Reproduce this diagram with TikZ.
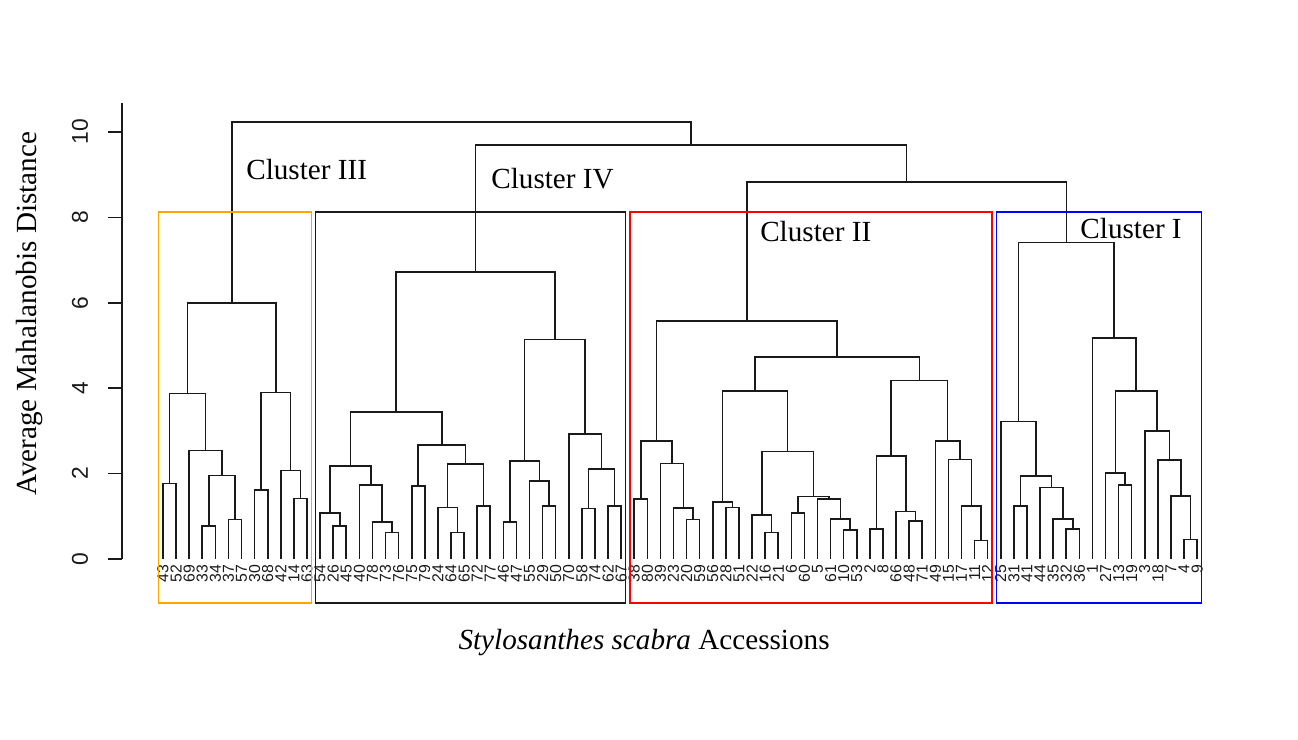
\documentclass[tikz,border=0pt]{standalone}
\usepackage{fontspec}
\setmainfont{Liberation Serif}
\setsansfont{Liberation Sans}
\usetikzlibrary{calc}
\definecolor{Ink}{HTML}{1A1A1A}
\definecolor{BoxOrange}{HTML}{FFA500}
\definecolor{BoxRed}{HTML}{FF0000}
\definecolor{BoxBlue}{HTML}{0000FF}

% one merge of the dendrogram: name, left child, right child, height
\newcommand{\dmerge}[4]{%
  \path ($(#2)!0.5!(#3)$) coordinate (#1tmp);
  \coordinate (#1) at (#1tmp |- 0,#4);
  \draw[branch] (#2) -- (#2 |- 0,#4) -- (#3 |- 0,#4) -- (#3);}

\begin{document}
\begin{tikzpicture}[x=0.2618cm,y=0.854cm,
  branch/.style={Ink,line width=0.9pt},
  leaflab/.style={font=\sffamily\fontsize{9}{9}\selectfont,text=Ink,rotate=90,anchor=east,inner sep=0pt},
  ticklab/.style={font=\sffamily\fontsize{13}{13}\selectfont,text=Ink,rotate=90},
  clulab/.style={font=\fontsize{16.6}{19}\selectfont,anchor=west,inner sep=0pt},
  cluframe/.style={line width=0.9pt}]
\useasboundingbox (-11.452,-4.2155) rectangle (87.708,13.091);
% leaves
\foreach \lab [count=\i] in {43,52,69,33,34,37,57,30,68,42,14,63,54,26,45,40,78,73,76,75,79,24,64,65,72,77,46,47,55,29,50,70,58,74,62,67,38,80,39,23,20,59,56,28,51,22,16,21,6,60,5,61,10,53,2,8,66,48,71,49,15,17,11,12,25,31,41,44,35,32,36,1,27,13,19,3,18,7,4,9} {\coordinate (l\lab) at (\i,0); \node[leaflab] (t\lab) at (\i,-0.12) {\lab};}
% cluster III
\dmerge{a1}{l43}{l52}{1.77}
\dmerge{a2}{l33}{l34}{0.77}
\dmerge{a3}{l37}{l57}{0.93}
\dmerge{a4}{a2}{a3}{1.96}
\dmerge{a5}{l69}{a4}{2.54}
\dmerge{a6}{a1}{a5}{3.88}
\dmerge{a7}{l30}{l68}{1.62}
\dmerge{a8}{l14}{l63}{1.42}
\dmerge{a9}{l42}{a8}{2.07}
\dmerge{a10}{a7}{a9}{3.90}
\dmerge{cIII}{a6}{a10}{5.99}
% cluster IV
\dmerge{b1}{l26}{l45}{0.77}
\dmerge{b2}{l54}{b1}{1.08}
\dmerge{b3}{l73}{l76}{0.62}
\dmerge{b4}{l78}{b3}{0.87}
\dmerge{b5}{l40}{b4}{1.73}
\dmerge{b6}{b2}{b5}{2.18}
\dmerge{b7}{l75}{l79}{1.71}
\dmerge{b8}{l64}{l65}{0.62}
\dmerge{b9}{l24}{b8}{1.21}
\dmerge{b10}{l72}{l77}{1.24}
\dmerge{b11}{b9}{b10}{2.23}
\dmerge{b12}{b7}{b11}{2.67}
\dmerge{b13}{b6}{b12}{3.44}
\dmerge{b14}{l46}{l47}{0.87}
\dmerge{b15}{l29}{l50}{1.24}
\dmerge{b16}{l55}{b15}{1.83}
\dmerge{b17}{b14}{b16}{2.30}
\dmerge{b18}{l58}{l74}{1.18}
\dmerge{b19}{l62}{l67}{1.24}
\dmerge{b20}{b18}{b19}{2.11}
\dmerge{b21}{l70}{b20}{2.93}
\dmerge{b22}{b17}{b21}{5.14}
\dmerge{cIV}{b13}{b22}{6.72}
% cluster II
\dmerge{d1}{l38}{l80}{1.40}
\dmerge{d2}{l20}{l59}{0.93}
\dmerge{d3}{l23}{d2}{1.19}
\dmerge{d4}{l39}{d3}{2.24}
\dmerge{d5}{d1}{d4}{2.76}
\dmerge{d6}{l28}{l51}{1.21}
\dmerge{d7}{l56}{d6}{1.33}
\dmerge{d8}{l16}{l21}{0.62}
\dmerge{d9}{l22}{d8}{1.03}
\dmerge{d10}{l6}{l60}{1.08}
\dmerge{d11}{l10}{l53}{0.68}
\dmerge{d12}{l61}{d11}{0.94}
\dmerge{d13}{l5}{d12}{1.40}
\dmerge{d14}{d10}{d13}{1.46}
\dmerge{d15}{d9}{d14}{2.52}
\dmerge{d16}{d7}{d15}{3.94}
\dmerge{d17}{l2}{l8}{0.70}
\dmerge{d18}{l48}{l71}{0.89}
\dmerge{d19}{l66}{d18}{1.11}
\dmerge{d20}{d17}{d19}{2.41}
\dmerge{d21}{l11}{l12}{0.43}
\dmerge{d22}{l17}{d21}{1.24}
\dmerge{d23}{l15}{d22}{2.33}
\dmerge{d24}{l49}{d23}{2.76}
\dmerge{d25}{d20}{d24}{4.18}
\dmerge{d26}{d16}{d25}{4.73}
\dmerge{cII}{d5}{d26}{5.57}
% cluster I
\dmerge{e1}{l32}{l36}{0.70}
\dmerge{e2}{l35}{e1}{0.94}
\dmerge{e3}{l44}{e2}{1.67}
\dmerge{e4}{l31}{l41}{1.24}
\dmerge{e5}{e4}{e3}{1.95}
\dmerge{e6}{l25}{e5}{3.22}
\dmerge{e7}{l13}{l19}{1.73}
\dmerge{e8}{l27}{e7}{2.02}
\dmerge{e9}{l4}{l9}{0.46}
\dmerge{e10}{l7}{e9}{1.48}
\dmerge{e11}{l18}{e10}{2.32}
\dmerge{e12}{l3}{e11}{3.00}
\dmerge{e13}{e8}{e12}{3.93}
\dmerge{e14}{l1}{e13}{5.18}
\dmerge{cI}{e6}{e14}{7.41}
% top of the tree
\dmerge{f1}{cII}{cI}{8.83}
\dmerge{f2}{cIV}{f1}{9.70}
\dmerge{root}{cIII}{f2}{10.23}
% cluster frames
\draw[BoxOrange,cluframe] (0.66,-1.03) rectangle (12.33,8.12);
\draw[Ink,cluframe] (12.66,-1.03) rectangle (36.33,8.12);
\draw[BoxRed,cluframe] (36.66,-1.03) rectangle (64.33,8.12);
\draw[BoxBlue,cluframe] (64.66,-1.03) rectangle (80.33,8.12);
\node[clulab] (labIII) at (7.34,9.11) {Cluster III};
\node[clulab] (labIV) at (26.06,8.92) {Cluster IV};
\node[clulab] (labII) at (46.6,7.68) {Cluster II};
\node[clulab] (labI) at (71.06,7.75) {Cluster I};
% axis
\draw[branch] (-2.13,0) -- (-2.13,10.68);
\foreach \t in {0,2,...,10} {\draw[branch] (-2.13,\t) -- (-3.2,\t); \node[ticklab] (tk\t) at (-5.34,\t) {\t};}
\node[font=\fontsize{16.6}{19}\selectfont,rotate=90] (ylab) at (-9.16,5.74) {Average Mahalanobis Distance};
\node[font=\fontsize{16.6}{19}\selectfont] (xlab) at (37.75,-1.967) {\textit{Stylosanthes scabra} Accessions};
\end{tikzpicture}
\end{document}
